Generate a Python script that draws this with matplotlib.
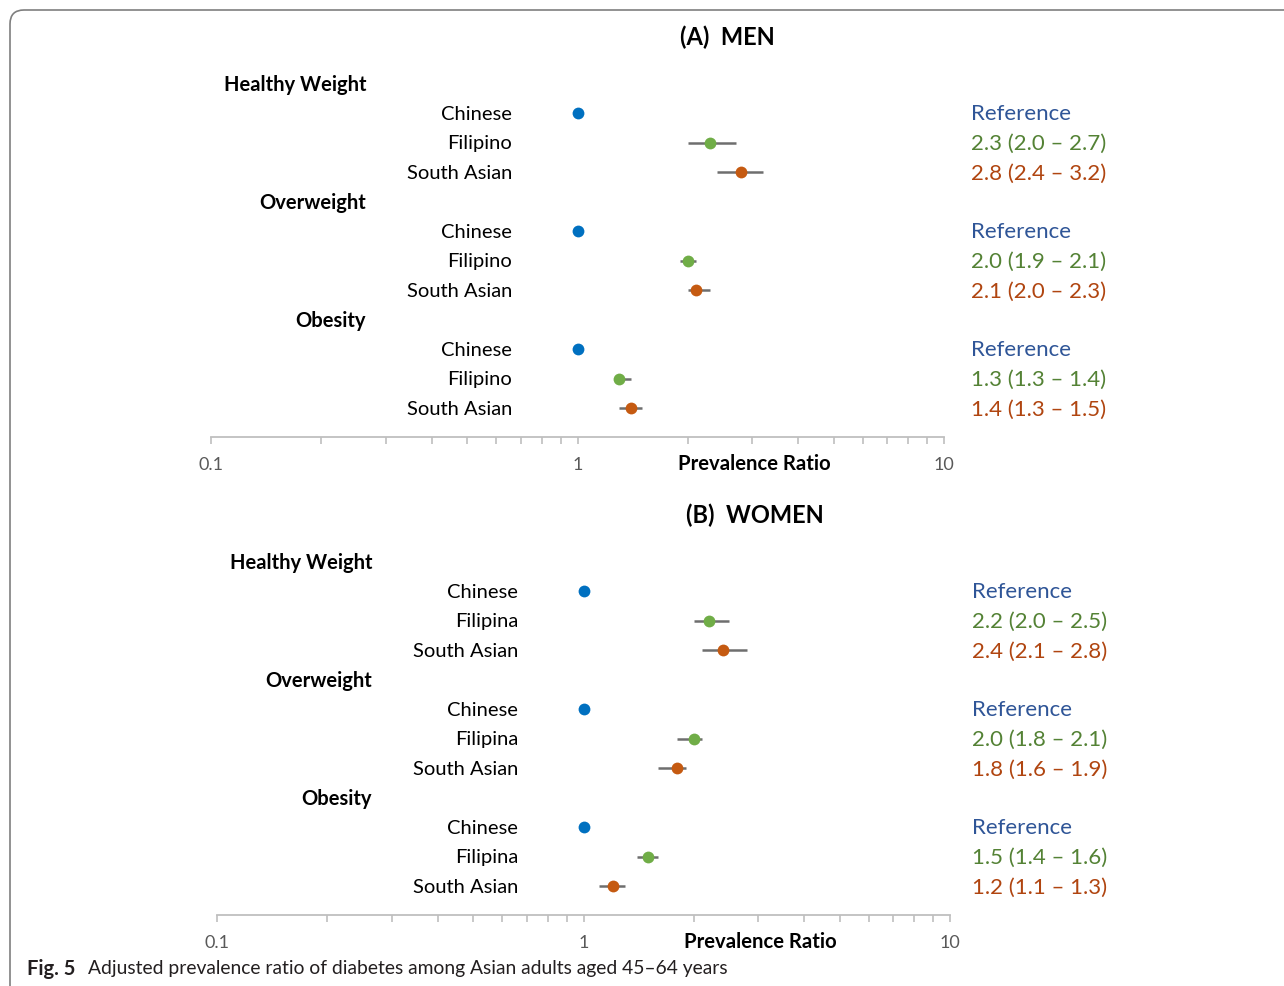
import matplotlib
matplotlib.use("Agg")
import matplotlib.pyplot as plt
from matplotlib.patches import FancyBboxPatch
from matplotlib.ticker import FixedLocator, NullFormatter
from matplotlib.transforms import blended_transform_factory

plt.rcParams['font.family'] = ['Lato', 'DejaVu Sans']

groups = ["Healthy Weight", "Overweight", "Obesity"]
men_labels = ["Chinese", "Filipino", "South Asian"]
women_labels = ["Chinese", "Filipina", "South Asian"]

# prevalence ratio with 95% CI, Chinese = reference
men_pr = [1.0, 2.3, 2.8, 1.0, 2.0, 2.1, 1.0, 1.3, 1.4]
men_lo = [None, 2.0, 2.4, None, 1.9, 2.0, None, 1.3, 1.3]
men_hi = [None, 2.7, 3.2, None, 2.1, 2.3, None, 1.4, 1.5]

women_pr = [1.0, 2.2, 2.4, 1.0, 2.0, 1.8, 1.0, 1.5, 1.2]
women_lo = [None, 2.0, 2.1, None, 1.8, 1.6, None, 1.4, 1.1]
women_hi = [None, 2.5, 2.8, None, 2.1, 1.9, None, 1.6, 1.3]

tick_values = [0.1, 1, 10]
tick_labels = ["0.1", "1", "10"]
minor_values = [0.2, 0.3, 0.4, 0.5, 0.6, 0.7, 0.8, 0.9,
                2, 3, 4, 5, 6, 7, 8, 9]

dot_colors = ["#0070C0", "#70AD47", "#C55A11"]
text_colors = ["#2F5597", "#548235", "#B04510"]

W, H = 1284, 987
fig = plt.figure(figsize=(W / 100, H / 100), dpi=100)

# rounded frame around the figure panel
frame = FancyBboxPatch((0.10, -1.0), 14.0, 10.76,
                       boxstyle="round,pad=0,rounding_size=0.14",
                       transform=fig.dpi_scale_trans, fill=False,
                       edgecolor="#7F7F7F", linewidth=1.2)
fig.add_artist(frame)

ROW = 29.5


def px_axes(left, top, right, bottom):
    return fig.add_axes([left / W, 1 - bottom / H,
                         (right - left) / W, (bottom - top) / H])


def draw_panel(ax, title, title_x, title_y, labels, pr, lo, hi, note_x):
    ax.set_xscale("log")
    ax.set_xlim(0.1, 10)
    ax.set_ylim(11.97, -1)
    trans = blended_transform_factory(ax.transAxes, ax.transData)

    for g, name in enumerate(groups):
        k0 = 4 * g
        ax.text(0.2115, k0, name, transform=trans, ha="right", va="center",
                fontsize=14.5, fontweight="bold", color="black")
        for i, lab in enumerate(labels):
            idx = 3 * g + i
            k = k0 + 1 + i
            ax.text(0.4106, k, lab, transform=trans, ha="right", va="center",
                    fontsize=14.5, color="black")
            if lo[idx] is not None:
                ax.hlines(k, lo[idx], hi[idx], color="#6E6E6E", lw=1.8, zorder=2)
                note = f"{pr[idx]:.1f} ({lo[idx]:.1f} – {hi[idx]:.1f})"
            else:
                note = "Reference"
            ax.plot(pr[idx], k, "o", ms=8.5, color=dot_colors[i],
                    markeredgewidth=0, zorder=3)
            ax.text(note_x, k, note, transform=trans, ha="left", va="center",
                    fontsize=16, color=text_colors[i])

    for s in ["left", "right", "top"]:
        ax.spines[s].set_visible(False)
    ax.spines["bottom"].set_color("#BFBFBF")
    ax.spines["bottom"].set_linewidth(1.3)
    ax.set_yticks([])
    ax.xaxis.set_major_locator(FixedLocator(tick_values))
    ax.set_xticklabels(tick_labels)
    ax.xaxis.set_minor_locator(FixedLocator(minor_values))
    ax.xaxis.set_minor_formatter(NullFormatter())
    ax.tick_params(axis="x", which="both", direction="out", length=5,
                   width=1.2, color="#BFBFBF", labelcolor="#595959",
                   labelsize=13, pad=8.5)
    ax.text(0.741, -0.068, "Prevalence Ratio", transform=ax.transAxes,
            ha="center", va="center", fontsize=14.6, fontweight="bold")
    ax.set_facecolor("none")

    fig.text(title_x / W, 1 - title_y / H, title, ha="center", va="center",
             fontsize=17, fontweight="bold")


ax_men = px_axes(211, 85 - ROW, 944, 438)
draw_panel(ax_men, "(A)  MEN", 727, 37, men_labels, men_pr, men_lo, men_hi,
           1.0368)

ax_women = px_axes(217, 563 - ROW, 950, 916)
draw_panel(ax_women, "(B)  WOMEN", 755, 515, women_labels,
           women_pr, women_lo, women_hi, 1.030)

fig.text(27 / W, 1 - 969 / H, "Fig. 5", ha="left", va="center",
         fontsize=14.5, fontweight="bold", color="#231F20")
fig.text(88 / W, 1 - 969 / H,
         "Adjusted prevalence ratio of diabetes among Asian adults aged 45–64 years",
         ha="left", va="center", fontsize=13.9, color="#231F20")

fig.savefig("out.png", dpi=100)
